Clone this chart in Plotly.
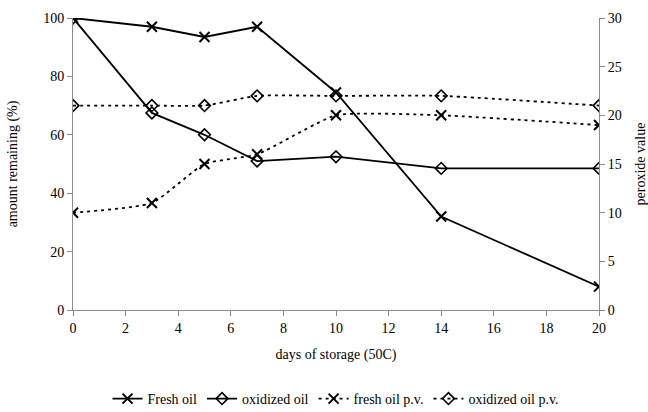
import plotly.graph_objects as go

days = [0, 3, 5, 7, 10, 14, 20]
fresh_oil = [100, 97, 93.5, 97, 74.5, 32, 8]
oxidized_oil = [100, 67.5, 60, 51, 52.5, 48.5, 48.5]
fresh_pv = [10, 11, 15, 16, 20, 20, 19]
oxidized_pv = [21, 21, 21, 22, 22, 22, 21]

FONT = "Liberation Serif"
AX = "#8c8c8c"
DOT = "3px,4px"

xm = dict(symbol="x-thin-open", size=10, color="black", line=dict(color="black", width=2))
dm = dict(symbol="diamond-open", size=9, color="black", line=dict(color="black", width=1.6))

fig = go.Figure()
fig.add_trace(go.Scatter(x=days, y=fresh_oil, name="Fresh oil", mode="lines+markers",
                         line=dict(color="black", width=1.8), marker=xm))
fig.add_trace(go.Scatter(x=days, y=oxidized_oil, name="oxidized oil", mode="lines+markers",
                         line=dict(color="black", width=1.8), marker=dm))
fig.add_trace(go.Scatter(x=days, y=fresh_pv, name="fresh oil p.v.", mode="lines+markers", yaxis="y2",
                         line=dict(color="black", width=1.8, dash=DOT, shape="spline", smoothing=0.5),
                         marker=xm))
fig.add_trace(go.Scatter(x=days, y=oxidized_pv, name="oxidized oil p.v.", mode="lines+markers", yaxis="y2",
                         line=dict(color="black", width=1.8, dash=DOT, shape="spline", smoothing=0.5),
                         marker=dm))

axis_common = dict(showgrid=False, zeroline=False, showline=True, linecolor=AX, linewidth=1,
                   ticks="outside", tickcolor=AX, ticklen=5, tickfont=dict(family=FONT, size=14, color="black"))

fig.update_layout(
    width=648, height=412,
    margin=dict(l=73, r=49, t=18, b=102, autoexpand=False),
    paper_bgcolor="white", plot_bgcolor="white",
    font=dict(family=FONT, size=14, color="black"),
    xaxis=dict(range=[0, 20], dtick=2, title=dict(text="days of storage (50C)", font=dict(size=14), standoff=14),
               **axis_common),
    yaxis=dict(range=[0, 100], dtick=20, title=dict(text="amount remaining (%)", font=dict(size=14), standoff=22),
               **axis_common),
    yaxis2=dict(range=[0, 30], dtick=5, overlaying="y", side="right",
                title=dict(text="peroxide value", font=dict(size=14), standoff=16), **axis_common),
    legend=dict(orientation="h", x=0.5, xanchor="center", y=-0.25, yanchor="top",
                font=dict(family=FONT, size=14), tracegroupgap=0),
    showlegend=True,
)

fig.write_html("out.html")
